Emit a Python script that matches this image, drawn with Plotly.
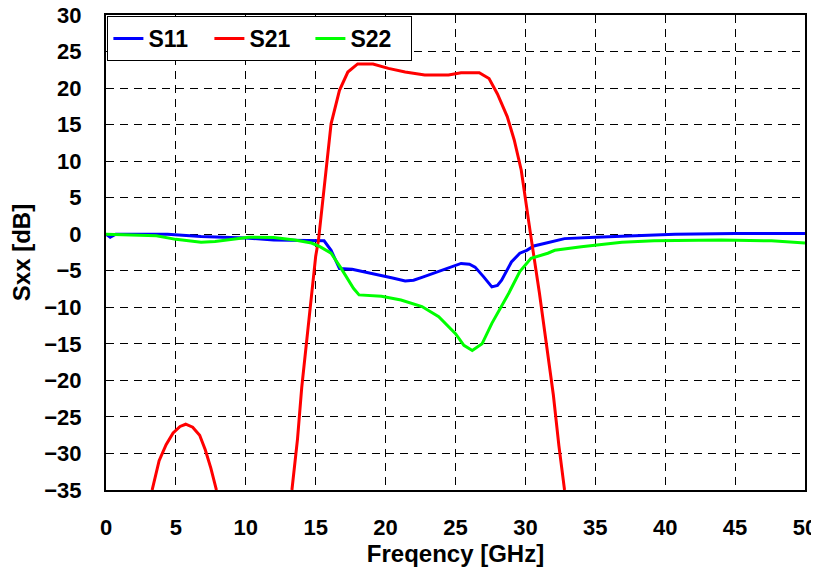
import plotly.graph_objects as go

# Frequency [GHz] / level [dB]
s11_freq = [0.0, 0.3, 0.7, 2.0, 4.4, 6.8, 8.8, 10.0, 12.0, 14.0, 15.0, 15.6, 16.1, 16.7,
            17.6, 18.6, 19.7, 20.5, 21.4, 22.0, 22.6, 23.3, 24.0, 24.7, 25.4, 26.0, 26.4,
            27.0, 27.6, 28.0, 28.3, 29.0, 29.6, 30.1, 30.6, 31.5, 32.8, 35.0, 37.9, 40.7,
            45.0, 50.0]
s11_db = [0.0, -0.4, 0.0, 0.0, 0.0, -0.3, -0.4, -0.5, -0.8, -0.85, -0.85, -0.9, -2.2, -4.7,
          -4.8, -5.2, -5.6, -6.0, -6.4, -6.3, -5.9, -5.4, -4.9, -4.5, -4.0, -4.1, -4.5,
          -5.8, -7.2, -7.0, -6.3, -3.8, -2.6, -2.2, -1.6, -1.2, -0.6, -0.4, -0.2, 0.0,
          0.1, 0.1]

s21_freq = [3.3, 3.8, 4.3, 4.8, 5.3, 5.7, 6.2, 6.7, 7.1, 7.5, 7.9, 10.0,
            13.3, 13.7, 14.0, 14.5, 15.0, 15.2, 15.7, 16.1, 16.7, 17.3, 18.0, 19.1,
            20.2, 21.4, 22.8, 24.5, 25.4, 26.7, 27.4, 28.0, 28.7, 29.2, 29.7, 30.0,
            30.4, 31.0, 31.5, 32.0, 32.4, 32.8]
s21_db = [-35.0, -31.0, -28.8, -27.2, -26.3, -26.0, -26.4, -27.5, -29.5, -32.0, -35.0, None,
          -35.0, -28.0, -21.0, -12.0, -3.0, -0.8, 8.3, 15.1, 19.7, 22.2, 23.3, 23.3,
          22.7, 22.2, 21.8, 21.8, 22.1, 22.1, 21.3, 19.2, 16.1, 12.9, 8.8, 5.1,
          -0.4, -8.0, -15.0, -22.0, -29.0, -35.0]

s22_freq = [0.0, 2.0, 3.6, 5.0, 6.8, 7.8, 9.2, 10.2, 12.0, 13.5, 14.7, 15.3, 16.1, 16.8,
            17.7, 18.1, 19.7, 21.1, 22.6, 23.8, 25.0, 25.6, 26.2, 26.9, 27.6, 28.8,
            29.6, 30.4, 31.6, 32.1, 34.0, 35.0, 36.9, 39.2, 44.0, 47.6, 50.0]
s22_db = [0.0, -0.1, -0.2, -0.7, -1.1, -1.0, -0.7, -0.4, -0.45, -0.8, -1.2, -1.7, -2.6, -4.6,
          -7.4, -8.3, -8.5, -9.0, -9.9, -11.3, -13.6, -15.2, -15.9, -15.0, -12.2, -8.1,
          -5.1, -3.3, -2.6, -2.2, -1.7, -1.5, -1.1, -0.9, -0.8, -0.9, -1.2]

x_ticks = [0, 5, 10, 15, 20, 25, 30, 35, 40, 45, 50]
y_ticks = [30, 25, 20, 15, 10, 5, 0, -5, -10, -15, -20, -25, -30, -35]

fig = go.Figure()

for name, xs, ys, color in [("S11", s11_freq, s11_db, "#0000ff"),
                            ("S21", s21_freq, s21_db, "#ff0000"),
                            ("S22", s22_freq, s22_db, "#00ff00")]:
    fig.add_trace(go.Scatter(
        x=xs, y=ys, mode="lines", name=name,
        line=dict(color=color, width=3),
        connectgaps=False,
    ))

tick_font = dict(family="Liberation Sans, Arial", size=22, color="black", weight="bold")
title_font = dict(family="Liberation Sans, Arial", size=24, color="black", weight="bold")

# page has an 8px body margin, so the margins are offset by that amount
fig.update_layout(
    width=819, height=564,
    margin=dict(l=98, r=22, t=7, b=82, autoexpand=False),
    paper_bgcolor="white",
    plot_bgcolor="white",
    font=dict(family="Liberation Sans, Arial", color="black"),
    legend=dict(
        orientation="h",
        x=0.002, y=0.998, xanchor="left", yanchor="top",
        bgcolor="white", bordercolor="black", borderwidth=1,
        font=dict(family="Liberation Sans, Arial", size=23, color="black", weight="bold"),
        tracegroupgap=0, entrywidth=56,
    ),
)

fig.update_xaxes(
    range=[0, 50], tickvals=x_ticks, automargin=False,
    tickfont=tick_font, ticks="", ticklabelstandoff=17, ticklabeloverflow="allow",
    title=dict(text="Freqency [GHz]", font=title_font, standoff=2),
    showgrid=True, gridcolor="black", gridwidth=1, griddash="8px,6px",
    showline=True, linecolor="black", linewidth=2, mirror=True,
    zeroline=False,
)
fig.update_yaxes(
    range=[-35, 30], tickvals=y_ticks, automargin=False,
    tickfont=tick_font, ticks="", ticklabelstandoff=18, ticklabeloverflow="allow",
    title=dict(text="Sxx [dB]", font=title_font, standoff=10),
    showgrid=True, gridcolor="black", gridwidth=1, griddash="8px,6px",
    showline=True, linecolor="black", linewidth=2, mirror=True,
    zeroline=False,
)

fig.write_html("out.html")
